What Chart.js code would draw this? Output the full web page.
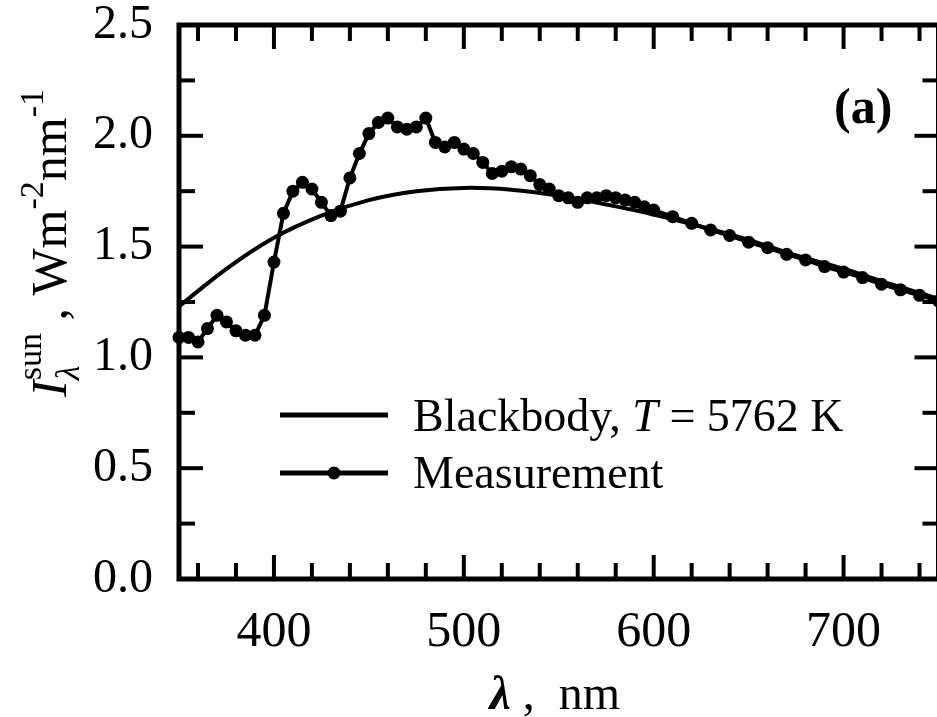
<!DOCTYPE html>
<html>
<head>
<meta charset="utf-8">
<script src="https://cdn.jsdelivr.net/npm/chart.js@4.4.1/dist/chart.umd.min.js"></script>
<style>
  html, body { margin: 0; padding: 0; background: #fff; overflow: hidden; }
  #wrap { width: 945px; height: 717px; }
</style>
</head>
<body>
<div id="wrap"><canvas id="sunChart" width="945" height="717"></canvas></div>
<script>
// Solar spectral irradiance vs blackbody (panel a)
const bbWavelength = [350, 375, 400, 425, 450, 475, 500, 525, 550, 575, 600, 625, 650, 675, 700, 725, 750];
const bbIntensity = [1.23, 1.40, 1.54, 1.64, 1.71, 1.75, 1.765, 1.757, 1.73, 1.69, 1.645, 1.59, 1.53, 1.46, 1.40, 1.33, 1.265];

const measWavelength = [
  350, 355, 360, 365, 370, 375, 380, 385, 390, 395,
  400, 405, 410, 415, 420, 425, 430, 435, 440, 445,
  450, 455, 460, 465, 470, 475, 480, 485, 490, 495,
  500, 505, 510, 515, 520, 525, 530, 535, 540, 545,
  550, 555, 560, 565, 570, 575, 580, 585, 590, 595,
  600, 610, 620, 630, 640, 650, 660, 670, 680, 690,
  700, 710, 720, 730, 740, 750
];
const measIntensity = [
  1.09, 1.09, 1.07, 1.13, 1.19, 1.16, 1.12, 1.10, 1.10, 1.19,
  1.43, 1.65, 1.75, 1.79, 1.76, 1.70, 1.64, 1.66, 1.81, 1.92,
  2.01, 2.06, 2.08, 2.04, 2.03, 2.04, 2.08, 1.97, 1.95, 1.97,
  1.94, 1.92, 1.88, 1.83, 1.84, 1.86, 1.85, 1.82, 1.78, 1.76,
  1.73, 1.72, 1.70, 1.72, 1.72, 1.73, 1.72, 1.71, 1.70, 1.68,
  1.665, 1.635, 1.605, 1.575, 1.55, 1.52, 1.495, 1.465, 1.44, 1.41,
  1.385, 1.36, 1.33, 1.305, 1.28, 1.255
];

const xMajorTicks = [400, 500, 600, 700];
const yMajorTicks = [0, 0.5, 1.0, 1.5, 2.0, 2.5];

const SERIF = '"Liberation Serif", "Times New Roman", serif';

function toPoints(xs, ys) {
  return xs.map((x, i) => ({ x: x, y: ys[i] }));
}

// draws a run of text pieces along one baseline, returns the advance
function drawPieces(ctx, pieces, x0, y0, measureOnly) {
  let x = x0;
  pieces.forEach((p) => {
    ctx.font = p.font;
    const w = Math.max(ctx.measureText(p.t).width, p.minW || 0);
    if (!measureOnly && !p.hidden) ctx.fillText(p.t, x, y0 + (p.dy || 0));
    if (!p.noAdvance) x += w;
  });
  return x - x0;
}

const framePlugin = {
  id: 'frame',
  afterDraw(chart) {
    const { ctx, chartArea: a, scales } = chart;
    const xs = scales.x, ys = scales.y;
    ctx.save();
    ctx.strokeStyle = '#000';
    ctx.fillStyle = '#000';
    ctx.lineCap = 'butt';
    ctx.textAlign = 'left';
    ctx.textBaseline = 'alphabetic';

    const seg = (x1, y1, x2, y2) => {
      ctx.beginPath(); ctx.moveTo(x1, y1); ctx.lineTo(x2, y2); ctx.stroke();
    };

    // inward ticks on all four sides
    ctx.lineWidth = 4;
    for (let v = 360; v < 750; v += 20) {
      const px = xs.getPixelForValue(v);
      const len = v % 100 === 0 ? 24 : 16;
      seg(px, a.bottom, px, a.bottom - len);
      seg(px, a.top, px, a.top + len);
    }
    for (let i = 1; i < 10; i++) {
      const py = ys.getPixelForValue(i * 0.25);
      const len = i % 2 === 0 ? 24 : 16;
      seg(a.left, py, a.left + len, py);
      seg(a.right, py, a.right - len, py);
    }
    ctx.lineWidth = 5;
    ctx.strokeRect(a.left, a.top, a.right - a.left, a.bottom - a.top);

    // panel label
    ctx.font = 'bold 50px ' + SERIF;
    ctx.fillText('(a)', 834, 123);

    // legend
    ctx.lineWidth = 5;
    seg(280, 415, 388, 415);
    seg(280, 473, 388, 473);
    ctx.beginPath(); ctx.arc(334, 473, 6.5, 0, Math.PI * 2); ctx.fill();
    const leg = '46px ' + SERIF;
    drawPieces(ctx, [
      { t: 'Blackbody, ', font: leg },
      { t: 'T', font: 'italic ' + leg },
      { t: ' = 5762 K', font: leg }
    ], 413, 431);
    drawPieces(ctx, [{ t: 'Measurement', font: leg }], 413, 488);

    // x axis title
    const xt = [
      { t: '\u03bb', font: 'italic bold 48px ' + SERIF },
      { t: ' ,  nm', font: '48px ' + SERIF }
    ];
    const xw = drawPieces(ctx, xt, 0, 0, true);
    drawPieces(ctx, xt, (a.left + a.right) / 2 - 4 - xw / 2, 709);

    // y axis title (rotated)
    const main = '50px ' + SERIF, small = '34px ' + SERIF;
    ctx.font = small;
    const stackW = Math.max(ctx.measureText('\u03bb').width, ctx.measureText('sun').width);
    const yt = [
      { t: 'I', font: 'italic ' + main },
      { t: '\u03bb', font: 'italic ' + small, dy: 13, noAdvance: true },
      { t: 'sun', font: small, dy: -25, noAdvance: true },
      { t: '', font: small, minW: stackW, hidden: true },
      { t: ' , Wm', font: main },
      { t: '-2', font: small, dy: -23 },
      { t: 'nm', font: main },
      { t: '-1', font: small, dy: -23 }
    ];
    ctx.save();
    ctx.translate(66, 0);
    ctx.rotate(-Math.PI / 2);
    const yw = drawPieces(ctx, yt, 0, 0, true);
    drawPieces(ctx, yt, -243 - yw / 2, 0);
    ctx.restore();

    ctx.restore();
  }
};

new Chart(document.getElementById('sunChart'), {
  type: 'line',
  data: {
    datasets: [
      {
        label: 'Blackbody, T = 5762 K',
        data: toPoints(bbWavelength, bbIntensity),
        borderColor: '#000',
        borderWidth: 4,
        pointRadius: 0,
        tension: 0.4,
        fill: false
      },
      {
        label: 'Measurement',
        data: toPoints(measWavelength, measIntensity),
        borderColor: '#000',
        backgroundColor: '#000',
        borderWidth: 4,
        pointRadius: 6.5,
        pointBorderWidth: 0,
        pointBackgroundColor: '#000',
        tension: 0,
        clip: false,
        fill: false
      }
    ]
  },
  options: {
    responsive: false,
    animation: false,
    devicePixelRatio: 1,
    layout: { padding: { top: 25, right: 5, left: 0, bottom: 0 } },
    plugins: { legend: { display: false }, tooltip: { enabled: false } },
    scales: {
      x: {
        type: 'linear',
        min: 350,
        max: 750,
        grid: { display: false },
        border: { display: false },
        ticks: { color: '#000', font: { family: SERIF, size: 50 }, padding: 16, maxRotation: 0 },
        afterBuildTicks: (s) => { s.ticks = xMajorTicks.map((v) => ({ value: v })); },
        afterFit: (s) => { s.height = 138; s.paddingLeft = 0; s.paddingRight = 0; }
      },
      y: {
        type: 'linear',
        min: 0,
        max: 2.5,
        grid: { display: false },
        border: { display: false },
        ticks: { color: '#000', font: { family: SERIF, size: 48, lineHeight: 0.5 }, padding: 18, callback: (v) => Number(v).toFixed(1) },
        afterBuildTicks: (s) => { s.ticks = yMajorTicks.map((v) => ({ value: v })); },
        afterFit: (s) => { s.width = 179; s.paddingTop = 0; s.paddingBottom = 0; }
      }
    }
  },
  plugins: [framePlugin]
});
</script>
</body>
</html>
